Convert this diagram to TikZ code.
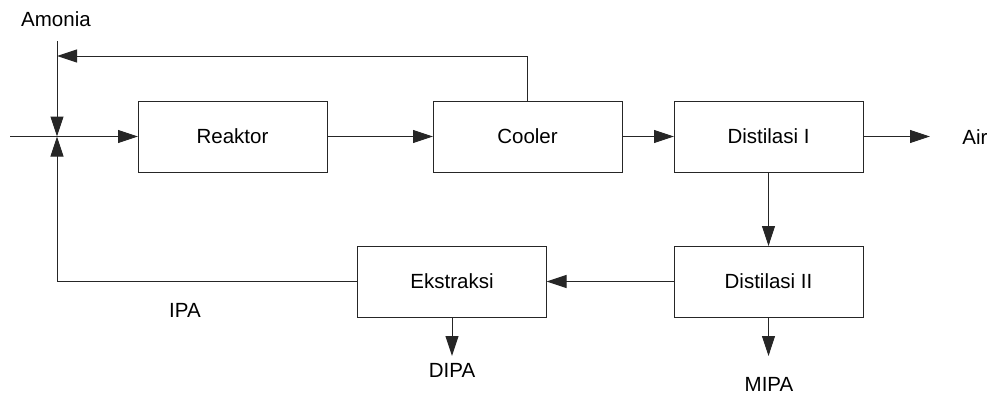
\documentclass[tikz,border=0pt]{standalone}
\usepackage{fontspec}
\setmainfont{Liberation Sans}
\usetikzlibrary{arrows.meta}
\begin{document}
\begin{tikzpicture}[x=1pt,y=-1pt,
  font=\fontsize{20.5}{24}\selectfont,
  box/.style={draw=black!85, line width=1pt, minimum width=189pt, minimum height=71pt, inner sep=0pt, outer sep=0pt},
  lbl/.style={inner sep=0pt, text=black},
  flow/.style={-{Triangle[length=20pt,width=13pt]}, line width=1pt, draw=black!85},
  line/.style={line width=1pt, draw=black!85}]
\useasboundingbox (0,0) rectangle (992,394);
\node[box] (reak) at (232.5,136.5) {Reaktor};
\node[box] (cool) at (527.5,136.5) {Cooler};
\node[box] (dis1) at (768.5,136.5) {Distilasi I};
\node[box] (dis2) at (768.5,281.5) {Distilasi II};
\node[box] (ekst) at (452,281.5) {Ekstraksi};
\coordinate (J) at (57,136.5);
\coordinate (in) at (10,136.5);
\coordinate (amtop) at (57,41);
\coordinate (fbtop) at (527.5,56);
\coordinate (fbleft) at (57,56);
\coordinate (bot) at (57,281.5);
\coordinate (airend) at (930,136.5);
\coordinate (dipaend) at (452,356);
\coordinate (mipaend) at (768.5,356);
\node[lbl] (amonia) at (56,19) {Amonia};
\node[lbl] (air) at (975,137) {Air};
\node[lbl] (ipa) at (185,310) {IPA};
\node[lbl] (dipa) at (452,370) {DIPA};
\node[lbl] (mipa) at (769,384) {MIPA};
\draw[line] (in) -- (J);
\draw[flow] (J) -- (reak.west);
\draw[flow] (amtop) -- (J);
\draw[line] (cool.north) -- (fbtop);
\draw[flow] (fbtop) -- (fbleft);
\draw[line] (ekst.west) -- (bot);
\draw[flow] (bot) -- (J);
\draw[flow] (reak.east) -- (cool.west);
\draw[flow] (cool.east) -- (dis1.west);
\draw[flow] (dis1.east) -- (airend);
\draw[flow] (dis1.south) -- (dis2.north);
\draw[flow] (dis2.west) -- (ekst.east);
\draw[flow] (ekst.south) -- (dipaend);
\draw[flow] (dis2.south) -- (mipaend);
\end{tikzpicture}
\end{document}
